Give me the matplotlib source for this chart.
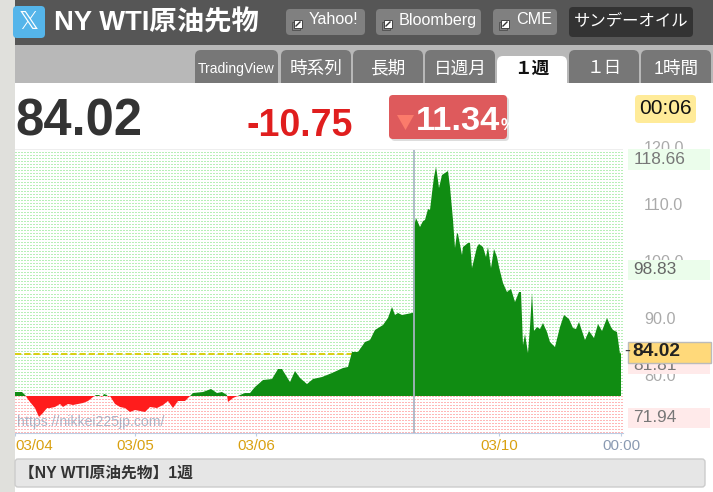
import numpy as np
from matplotlib import pyplot as plt
from matplotlib.patches import FancyBboxPatch, Polygon, Rectangle

plt.rcParams['font.family'] = ['Liberation Sans', 'Noto Sans CJK JP', 'DejaVu Sans']

W, H = 713, 492
DPI = 100

# one bar is about 12 minutes, the gap over the weekend is cut out
bars = [0, 7, 11, 12, 15, 20, 24, 28, 32, 35, 40, 45, 48, 53, 58, 63, 68, 73, 78, 81, 84, 87, 89, 92, 93, 95,
        100, 105, 110, 115, 120, 125, 130, 135, 142, 148, 153, 158, 163, 170, 175, 178, 188, 196, 202, 207,
        212, 213, 218, 225, 230, 235, 240, 248, 257, 263, 267, 275, 280, 285, 292, 298, 307, 317, 328, 333,
        337, 343, 350, 355, 360, 368, 373, 377, 380, 383, 387, 392, 397, 398, 399, 401, 405, 408, 410, 413,
        415, 417, 419, 421, 422, 424, 427, 430, 433, 435, 438, 440, 442, 443, 447, 448, 453, 455, 457, 462,
        464, 468, 471, 473, 476, 479, 482, 484, 488, 492, 496, 500, 504, 506, 508, 510, 513, 515, 517, 519,
        522, 525, 528, 532, 535, 540, 545, 549, 554, 558, 561, 564, 570, 574, 579, 583, 587, 592, 596, 598,
        602, 605, 606]
prices = [77.02, 77.02, 76.32, 75.97, 75.27, 74.21, 72.64, 73.34, 74.21, 74.21, 74.39, 74.92, 74.39, 74.92,
          74.74, 74.92, 75.09, 75.44, 76.14, 76.49, 76.49, 76.14, 76.67, 76.49, 76.14, 76.32,
          74.92, 74.39, 74.21, 73.51, 73.86, 73.69, 73.51, 74.39, 74.21, 74.74, 75.44, 74.21, 75.44, 75.44,
          76.32, 76.84, 77.02, 77.55, 76.84, 77.02, 76.49, 75.27, 75.97, 76.49, 76.84, 76.84, 77.90, 79.12,
          79.30, 81.05, 81.05, 78.77, 80.70, 79.48, 78.42, 79.30, 79.65, 80.35, 81.23, 81.41,
          84.04, 84.04, 85.79, 86.14, 87.90, 88.77, 90.00, 91.93, 90.53, 90.88, 90.53, 90.70, 90.88, 90.88,
          105.96, 107.54, 105.96, 107.01, 107.19, 109.12, 108.94, 111.93, 114.73, 116.49, 115.43, 112.80,
          115.08, 115.43, 115.78, 112.98, 107.19, 102.28, 104.91, 104.73, 101.05, 102.45, 103.16, 103.16,
          98.77, 102.45, 102.98, 102.45, 100.70, 102.45, 98.77, 102.10, 100.70, 98.95, 96.14, 94.56, 95.09,
          92.81, 94.56, 94.56, 85.26, 87.19, 83.86, 88.42, 94.39, 87.72, 88.42, 88.07, 89.12, 87.54, 85.79,
          84.91, 88.42, 90.53, 89.82, 88.25, 88.07, 89.30, 86.14, 87.72, 86.49, 88.95, 87.72, 90.00, 88.42,
          87.90, 87.54, 83.69, 84.02]
base_price = 76.32
last_price = 84.02

x_ticks = [0, 120, 241, 484, 606]
x_labels = ['03/04', '03/05', '03/06', '03/10', '00:00']
y_ticks = [120, 110, 100, 90, 80]
session_bar = 399

tabs = ['TradingView', '時系列', '長期', '日週月', '１週', '１日', '1時間']
links = ['Yahoo!', 'Bloomberg', 'CME']


def px_rect(x0, y0, x1, y1):
    return [x0 / W, 1 - y1 / H, (x1 - x0) / W, (y1 - y0) / H]


def box(ax, x0, y0, x1, y1, color, radius=0, edge='none', lw=0, zorder=1):
    patch = FancyBboxPatch((x0 + radius, y0 + radius), x1 - x0 - 2 * radius, y1 - y0 - 2 * radius,
                           boxstyle=f'round,pad={radius},rounding_size={radius}' if radius else 'square,pad=0',
                           fc=color, ec=edge, lw=lw, zorder=zorder)
    ax.add_patch(patch)


def link_icon(ax, x, y):
    ax.add_patch(Rectangle((x - 1, y + 1), 8, 8, fc='none', ec='#555555', lw=0.7, zorder=3))
    ax.add_patch(Rectangle((x + 1, y - 1), 8, 8, fc='white', ec='#444444', lw=0.7, zorder=3))
    ax.plot([x + 3, x + 7], [y + 5, y + 1], color='#333333', lw=1.0, zorder=4)


fig = plt.figure(figsize=(W / DPI, H / DPI), dpi=DPI, facecolor='white')

# chart ---------------------------------------------------------------------
ax = fig.add_axes(px_rect(15, 140, 623, 433), facecolor='none')
y_top = 121.22
y_dots = 119.47
y_bottom = 69.83
ax.set_xlim(0, 608)
ax.set_ylim(y_bottom, y_top)

# dotted background, green over the base price and red under it
rows, cols = 283, 608
dots = np.ones((rows, cols, 3))
split = int((y_dots - base_price) / (y_dots - y_bottom) * rows)
mask = (np.arange(rows)[:, None] % 3 == 0) & (np.arange(cols)[None, :] % 3 != 2)
dots[:split][mask[:split]] = [0.72, 0.94, 0.72]
dots[split:][mask[split:]] = [1.0, 0.72, 0.72]
ax.imshow(dots, extent=(0, 608, y_bottom, y_dots), aspect='auto', interpolation='nearest', zorder=0)

ax.plot([0, 608], [last_price - 0.3] * 2, color='#d8cc00', lw=1.3, dashes=(3.5, 1.6), zorder=1)
ax.fill_between(bars, prices, base_price, where=np.array(prices) >= base_price, interpolate=True,
                color='#108c12', lw=0, zorder=2)
ax.fill_between(bars, prices, base_price, where=np.array(prices) <= base_price, interpolate=True,
                color='#ff1c1c', lw=0, zorder=2)
ax.axvline(session_bar, ymax=(y_dots - y_bottom) / (y_top - y_bottom), color='#a9b4c4', lw=1.4, alpha=0.9, zorder=3)

for name in ['top', 'left', 'right']:
    ax.spines[name].set_visible(False)
ax.spines['bottom'].set_color('#bccde4')
ax.yaxis.tick_right()
ax.set_yticks(y_ticks, [f'{v:.1f}' for v in y_ticks], fontsize=11.6, color='#aaaaaa')
ax.tick_params(axis='y', length=0, pad=15)
ax.set_xticks(x_ticks, x_labels, fontsize=10.8, color='#d9a010')
ax.tick_params(axis='x', length=2, color='#bccde4', pad=2)
ax.get_xticklabels()[0].set_ha('left')
ax.get_xticklabels()[-1].set_color('#8a9ab2')

# page around the chart -----------------------------------------------------
ui = fig.add_axes([0, 0, 1, 1], facecolor='none', zorder=5)
ui.set_xlim(0, W)
ui.set_ylim(H, 0)
ui.axis('off')

box(ui, 0, 0, 15, H, '#e0e0dc')
box(ui, 15, 0, W, 45, '#565656')
box(ui, 15, 45, W, 83, '#b8b8b8')
box(ui, 15, 149, 623, 150, '#eeeeee')

box(ui, 13, 6, 45, 38, '#55b5ea', radius=4, zorder=2)
ui.text(29, 22, '𝕏', color='white', fontsize=18, ha='center', va='center', family='DejaVu Sans', zorder=3)
ui.text(54, 23, 'NY WTI原油先物', color='white', fontsize=19.7, weight='bold', va='center', zorder=3)

link_x = [(286, 365), (376, 481), (493, 557)]
for (x0, x1), label in zip(link_x, links):
    box(ui, x0, 9, x1, 35, '#808080', radius=4, zorder=2)
    link_icon(ui, x0 + 7, 21)
    ui.text(x0 + 23, 20, label, color='white', fontsize=11.6, va='center', zorder=3)
box(ui, 569, 7, 693, 37, '#333333', radius=4, zorder=2)
ui.text(631, 21, 'サンデーオイル', color='white', fontsize=11.8, ha='center', va='center', zorder=3)

tab_x = [(195, 278), (281, 351), (353, 423), (425, 495), (497, 567), (569, 639), (641, 711)]
for (x0, x1), label in zip(tab_x, tabs):
    selected = label == '１週'
    top = 56 if selected else 50
    box(ui, x0, top, x1, 90, 'white' if selected else '#777777', radius=6, zorder=2)
    ui.text((x0 + x1) / 2, 69, label, color='#111111' if selected else 'white',
            fontsize=10 if label == 'TradingView' else 12.7, weight='bold' if selected else 'normal',
            ha='center', va='center', zorder=3)
box(ui, 0, 83, 15, 92, '#e0e0dc', zorder=3)
box(ui, 15, 83, W, 92, 'white', zorder=3)

ui.text(15, 122, '84.02', color='#333333', fontsize=36.5, weight='bold', va='center', zorder=3)
ui.text(247, 126, '-10.75', color='#e01e1e', fontsize=27, weight='bold', va='center', zorder=3)

box(ui, 391, 97, 509, 141, '#dddddd', radius=4, zorder=2)
box(ui, 389, 95, 507, 139, '#de5a5c', radius=4, zorder=3)
ui.add_patch(Polygon([(397, 115), (414, 115), (405.5, 130)], fc='#fb7b6b', ec='none', zorder=4))
ui.text(416, 121, '11.34', color='white', fontsize=24.8, weight='bold', va='center', zorder=4)
ui.text(501, 126, '%', color='white', fontsize=12, weight='bold', va='center', zorder=4)

box(ui, 635, 95, 696, 123, '#ffeb99', radius=4, zorder=2)
ui.text(665.5, 109, '00:06', color='#111111', fontsize=15, ha='center', va='center', zorder=3)

# price labels at the right of the chart
box(ui, 628, 149, 710, 170, '#ebfdeb', zorder=2)
box(ui, 628, 260, 710, 280, '#ebfdeb', zorder=2)
box(ui, 628, 354, 710, 374, '#ffeaea', zorder=2)
box(ui, 628, 408, 710, 428, '#ffeaea', zorder=2)
ui.text(634, 160, '118.66', color='#777777', fontsize=12.4, va='center', zorder=3)
ui.text(633, 270, '98.83', color='#666666', fontsize=12.4, va='center', zorder=3)
ui.text(633, 365, '81.81', color='#777777', fontsize=12.4, va='center', zorder=3)
ui.text(633, 418, '71.94', color='#777777', fontsize=12.4, va='center', zorder=3)

box(ui, 628, 342, 711, 363, '#ffd97a', edge='#bbbbbb', lw=1, zorder=4)
ui.text(624, 351, '-', color='#444444', fontsize=13, va='center', zorder=5)
ui.text(632, 352, f'{last_price:.2f}', color='#222222', fontsize=13.8, weight='bold', va='center', zorder=5)

ui.text(17, 422, 'https://nikkei225jp.com/', color='#8f9fb8', alpha=0.75, fontsize=10.1, va='center', zorder=3)

box(ui, 15, 459, 705, 487, '#e6e6e6', radius=3, edge='#cccccc', lw=1, zorder=2)
ui.text(19, 473, '【NY WTI原油先物】1週', color='#333333', fontsize=11.3, weight='bold', va='center', zorder=3)

fig.savefig('out.png', dpi=DPI)
